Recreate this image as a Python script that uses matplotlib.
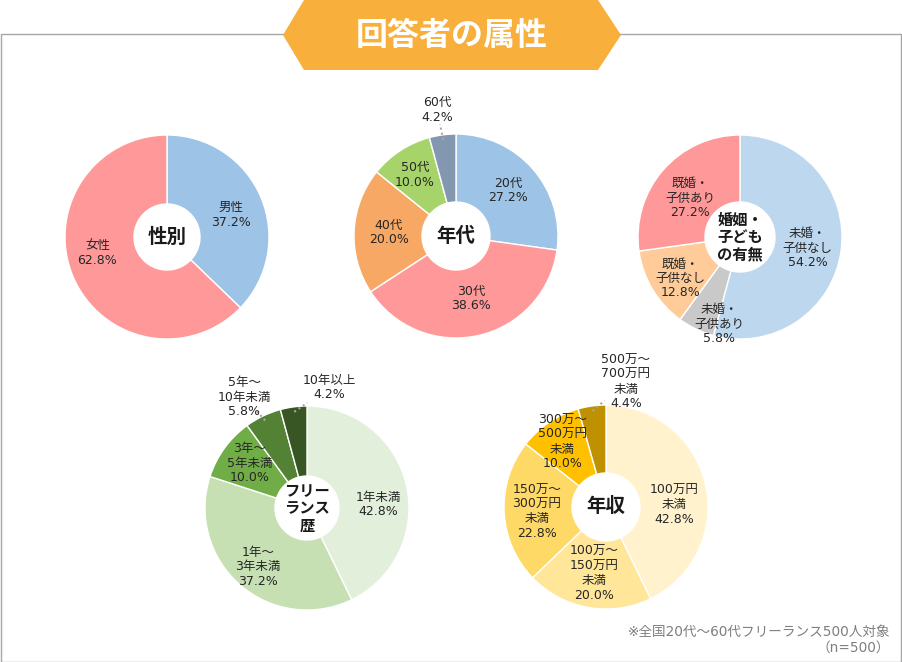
import matplotlib
matplotlib.use('Agg')
import matplotlib.pyplot as plt
import numpy as np
from matplotlib.patches import Polygon, Rectangle

plt.rcParams['font.family'] = ['Noto Sans CJK JP', 'DejaVu Sans']
LABEL_FONT = ['DejaVu Sans', 'Noto Sans CJK JP']

# 性別
sex_labels = ['男性', '女性']
sex_values = [37.2, 62.8]
# 年代
age_labels = ['20代', '30代', '40代', '50代', '60代']
age_values = [27.2, 38.6, 20.0, 10.0, 4.2]
# 婚姻・子どもの有無
fam_labels = ['未婚・\n子供なし', '未婚・\n子供あり', '既婚・\n子供なし', '既婚・\n子供あり']
fam_values = [54.2, 5.8, 12.8, 27.2]
# フリーランス歴
exp_labels = ['1年未満', '1年～\n3年未満', '3年～\n5年未満', '5年～\n10年未満', '10年以上']
exp_values = [42.8, 37.2, 10.0, 5.8, 4.2]
# 年収
inc_labels = ['100万円\n未満', '100万～\n150万円\n未満', '150万～\n300万円\n未満',
              '300万～\n500万円\n未満', '500万～\n700万円\n未満']
inc_values = [42.8, 20.0, 22.8, 10.0, 4.4]

W, H = 902, 662
fig = plt.figure(figsize=(W / 100, H / 100), dpi=100)
ax = fig.add_axes([0, 0, 1, 1])

# chart settings: title, center (px, y from top), hole radius, colours,
# label radius (fraction of R), label angle shift, leader line flags
charts = [
    dict(title='性別', fs=14, c=(167, 237), hole=33, labels=sex_labels, values=sex_values,
         colors=['#9DC3E6', '#FF9999'],
         lr=[0.66, 0.70], da=[-4, -10], lead=[0, 0]),
    dict(title='年代', fs=14, c=(456, 236), hole=34, labels=age_labels, values=age_values,
         colors=['#9DC3E6', '#FF9999', '#F8A865', '#A6D46A', '#8497B0'],
         lr=[0.68, 0.63, 0.66, 0.72, 1.25], da=[0, 1, 0, 1, 1], lead=[0, 0, 0, 0, 1]),
    dict(title='婚姻・\n子ども\nの有無', fs=11, c=(740, 237), hole=35, labels=fam_labels, values=fam_values,
         colors=['#BDD7EE', '#C9C9C9', '#FFCC99', '#FF9999'],
         lr=[0.67, 0.88, 0.71, 0.62], da=[-2, 12, 4, 3], lead=[0, 0, 0, 0]),
    dict(title='フリー\nランス\n歴', fs=11, c=(307, 508), hole=32, labels=exp_labels, values=exp_values,
         colors=['#E2EFDA', '#C6E0B4', '#70AD47', '#548235', '#375623'],
         lr=[0.70, 0.75, 0.71, 1.25, 1.20], da=[-10, 1, -2, 4, -18], lead=[0, 0, 0, 1, 1]),
    dict(title='年収', fs=14, c=(606, 507), hole=34, labels=inc_labels, values=inc_values,
         colors=['#FFF2CC', '#FFE699', '#FFD966', '#FFC000', '#BF9000'],
         lr=[0.67, 0.66, 0.68, 0.77, 1.24], da=[-11, 0, 1, 0, -17], lead=[0, 0, 0, 0, 1]),
]
R = 102

for ch in charts:
    cx, cy = ch['c'][0], H - ch['c'][1]
    wedges, _ = ax.pie(ch['values'], colors=ch['colors'], startangle=90, counterclock=False,
                       center=(cx, cy), radius=R, frame=True,
                       wedgeprops=dict(width=R - ch['hole'], edgecolor='white', linewidth=1))
    for i, w in enumerate(wedges):
        mid = (w.theta1 + w.theta2) / 2
        ang = np.deg2rad(mid + ch['da'][i])
        r = ch['lr'][i] * R
        tx, ty = cx + r * np.cos(ang), cy + r * np.sin(ang)
        ax.text(tx, ty, ch['labels'][i] + '\n' + f"{ch['values'][i]:.1f}%",
                ha='center', va='center', fontsize=9, color='#262626', linespacing=1.15,
                family=LABEL_FONT)
        if ch['lead'][i]:
            # short dotted leader from inside the slice towards its label
            m = np.deg2rad(mid)
            sx, sy = cx + (R - 5) * np.cos(m), cy + (R - 5) * np.sin(m)
            d = np.array([tx - sx, ty - sy])
            d = d / np.hypot(*d)
            ax.plot([sx, sx + 16 * d[0]], [sy, sy + 16 * d[1]], ls=(0, (1, 1.5)),
                    color='#A6A6A6', lw=1.5)
    ax.text(cx, cy, ch['title'], ha='center', va='center', fontsize=ch['fs'],
            fontweight='bold', color='#1a1a1a', linespacing=1.1)

# frame
ax.add_patch(Rectangle((0.5, 0.5), W - 2, H - 34.5, fill=False, ec='#A6A6A6', lw=1))

# title banner
ax.add_patch(Polygon([(283, H - 35), (304, H), (598, H), (621, H - 35), (598, H - 70), (304, H - 70)],
                     closed=True, fc='#F8AF3C', ec='none'))
ax.text(452, H - 36, '回答者の属性', ha='center', va='center', fontsize=23,
        fontweight='bold', color='white')

# footnote
ax.text(890, H - 640, '※全国20代～60代フリーランス500人対象\n（n=500）', ha='right', va='center',
        fontsize=9.8, color='#7F7F7F', linespacing=1.2, multialignment='right',
        family=LABEL_FONT)

ax.set_xlim(0, W)
ax.set_ylim(0, H)
ax.set_aspect('equal')
ax.axis('off')

fig.savefig('out.png', dpi=100)
